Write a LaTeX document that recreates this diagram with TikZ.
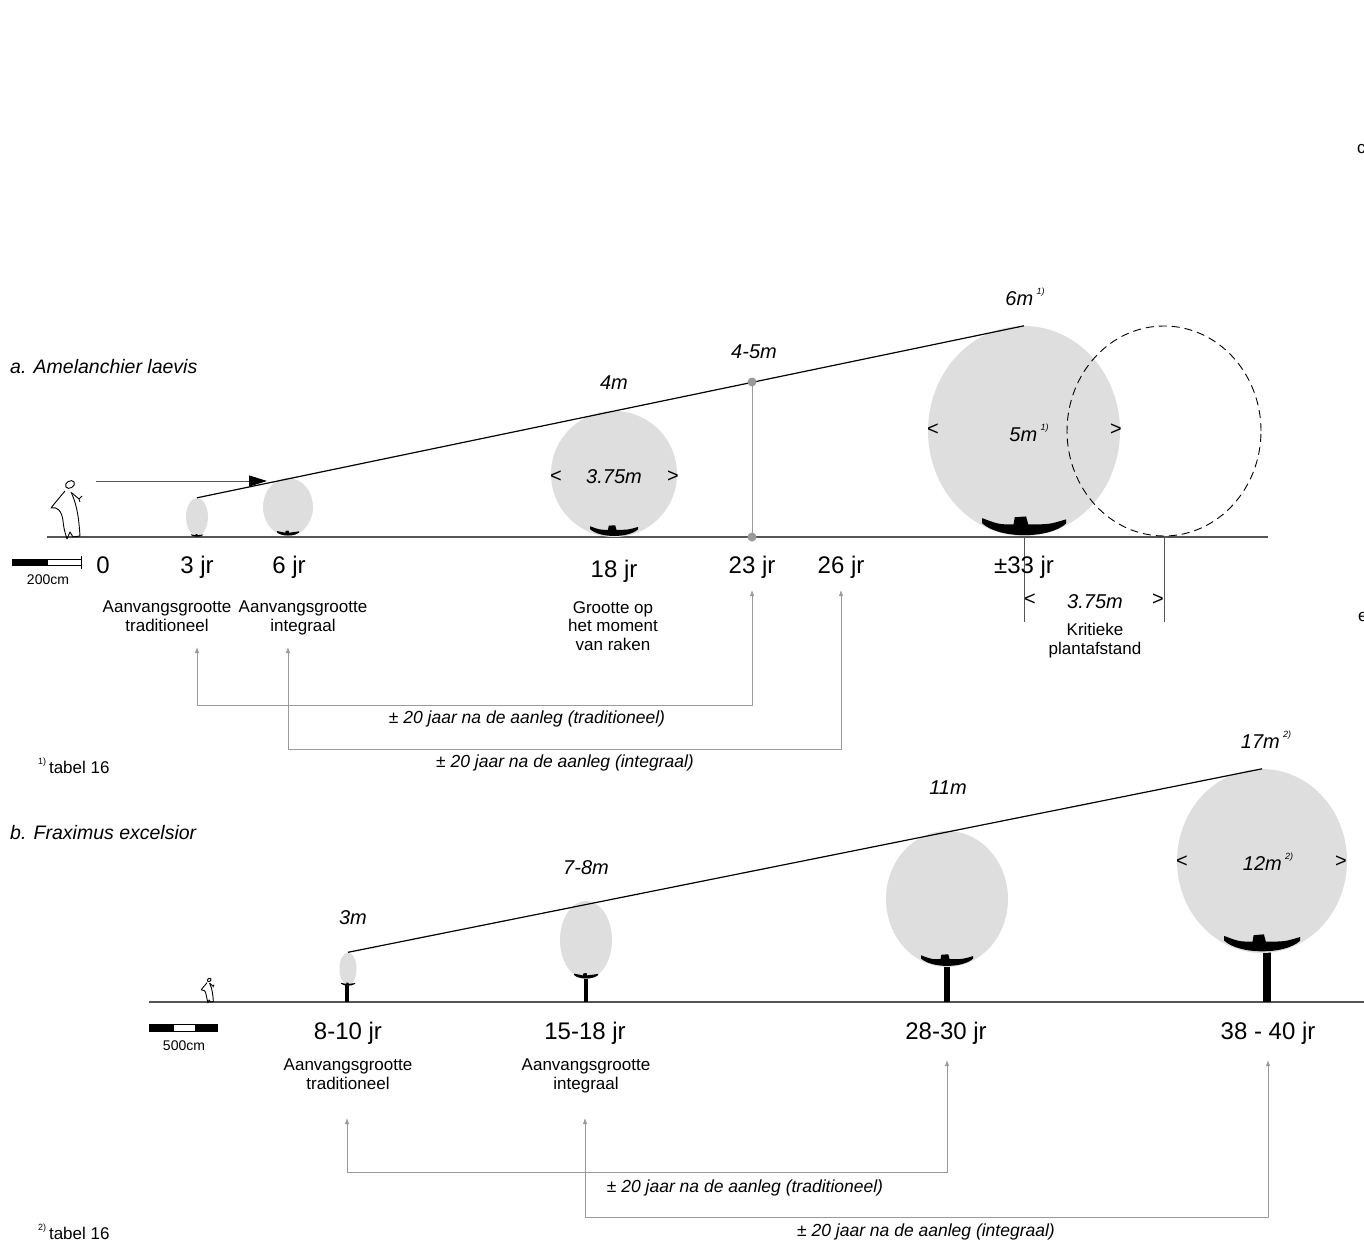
\documentclass[tikz,border=0pt]{standalone}
\usepackage{fontspec}
\setmainfont{Liberation Sans}
\usetikzlibrary{arrows.meta,shapes.geometric}

\definecolor{crowngray}{HTML}{DEDEDE}
\definecolor{linkgray}{HTML}{9A9A9A}
\definecolor{soilgray}{HTML}{555555}

% chỉ số chú thích nhỏ
\newcommand{\fnm}[1]{\raisebox{0.55em}{\fontsize{9}{9}\selectfont #1)}}

\tikzset{
  crown/.style={ellipse, fill=crowngray, inner sep=0pt},
  yearlbl/.style={font=\fontsize{24}{26}\selectfont, anchor=base, inner sep=0pt},
  captxt/.style={font=\fontsize{17}{18.5}\selectfont, align=center, anchor=north, inner sep=0pt},
  sizelbl/.style={font=\fontsize{20}{22}\selectfont\itshape, inner sep=0pt},
  marklbl/.style={font=\fontsize{20}{22}\selectfont, inner sep=0pt},
  spanlbl/.style={font=\fontsize{17.5}{19}\selectfont\itshape, inner sep=0pt},
  titletxt/.style={font=\fontsize{19.5}{21}\selectfont\itshape, anchor=west, inner sep=0pt},
  notetxt/.style={font=\fontsize{17}{18.5}\selectfont, anchor=west, inner sep=0pt},
  link/.style={draw=linkgray, line width=0.9pt,
    {Latex[length=6pt,width=4.5pt]}-{Latex[length=6pt,width=4.5pt]}},
  ground/.style={draw=soilgray, line width=1.3pt},
  % gốc cành màu đen dưới tán
  rootbase/.pic={
    \fill (-1,-0.45) .. controls (-0.6,-0.3) .. (-0.25,-0.3) -- (-0.22,-0.47)
      -- (0.05,-0.49) -- (0.1,-0.3) .. controls (0.6,-0.3) .. (1,-0.42)
      -- (1,-0.32) .. controls (0.6,0.05) and (-0.6,0.05) .. (-1,-0.33) -- cycle;
  },
  % người đi bộ
  walker/.pic={
    \draw[line width=0.9pt] (-2,-52.5) ellipse [x radius=4.8, y radius=3.5, rotate=30];
    \draw[line width=0.9pt, line join=round]
      (-7,-46) .. controls (-12,-40) and (-18,-33) .. (-21,-29)
      .. controls (-15,-31) and (-10,-26) .. (-9,-16)
      .. controls (-8,-8) .. (-5,2) -- (-2,-5) -- (1,0) -- (8,-1)
      .. controls (7,-15) and (6,-30) .. (-1,-45);
    \draw[line width=0.9pt] (0,-44) -- (7,-38) -- (10,-41) (7,-38) -- (8,-35);
  },
}

\begin{document}
\begin{tikzpicture}[x=1pt, y=-1pt]
  \useasboundingbox (0,0) rectangle (1364,1246);

  % ===== a. Amelanchier =====
  \node[titletxt] (titleA) at (10,367) {a. Amelanchier laevis};

  % Vẽ mặt đất, người và thước
  \draw[ground] (47,537) -- (1268,537);
  \pic at (72,537) {walker};
  \fill (12,559) rectangle (47,566);
  \draw[line width=0.8pt] (47,559.5) rectangle (81,565.5);
  \draw[line width=0.8pt] (81,556) -- (81,569);
  \node[font=\fontsize{14}{14}\selectfont] (scaleA) at (48,580) {200cm};

  % Tán cây
  \node[crown, minimum width=22pt, minimum height=38pt] (crA3) at (197,517) {};
  \node[crown, minimum width=50pt, minimum height=58pt] (crA6) at (288,507) {};
  \node[crown, minimum width=126pt, minimum height=126pt] (crA18) at (614,474) {};
  \node[crown, minimum width=192pt, minimum height=210pt] (crA33) at (1024,431) {};
  \node[ellipse, draw, dash pattern=on 8pt off 5pt, line width=0.9pt,
        minimum width=194pt, minimum height=210pt, inner sep=0pt] (crA33next) at (1164,431) {};
  \pic[scale=6] at (197,537) {rootbase};
  \pic[scale=11] at (288,536) {rootbase};
  \pic[scale=24] at (614,537) {rootbase};
  \pic[scale=42] at (1024,537) {rootbase};

  % Đường bao chiều cao
  \draw[line width=1.2pt] (crA3.north) -- (crA33.north);
  \coordinate (walkFrom) at (96,481);
  \coordinate (walkTo) at (267,481);
  \draw[soilgray, line width=1pt, -{Triangle[length=18pt,width=11pt,color=black]}] (walkFrom) -- (walkTo);

  % Thời điểm chạm nhau
  \coordinate (touchTop) at (752,382);
  \coordinate (touchFoot) at (752,537);
  \draw[linkgray, line width=1pt] (touchTop) -- (touchFoot);
  \fill[linkgray] (touchTop) circle[radius=4.5];
  \fill[linkgray] (touchFoot) circle[radius=4.5];

  % Nhãn kích thước
  \node[sizelbl] (hA33) at (1025,297) {6m\,\fnm{1}};
  \node[sizelbl] (hA23) at (754,352) {4-5m};
  \node[sizelbl] (hA18) at (614,383) {4m};
  \node[sizelbl] (wA18) at (614,477) {3.75m};
  \node[marklbl] (wA18l) at (556,477) {<};
  \node[marklbl] (wA18r) at (673,477) {>};
  \node[sizelbl] (wA33) at (1029,433) {5m\,\fnm{1}};
  \node[marklbl] (wA33l) at (933,430) {<};
  \node[marklbl] (wA33r) at (1116,430) {>};

  % Khoảng cách trồng tới hạn
  \coordinate (gapL) at (1024,622);
  \coordinate (gapR) at (1164,622);
  \draw[soilgray, line width=1pt] (crA33.south) -- (gapL);
  \draw[soilgray, line width=1pt] (crA33next.south) -- (gapR);
  \node[sizelbl] (gapW) at (1095,602) {3.75m};
  \node[marklbl] (gapWl) at (1030,600) {<};
  \node[marklbl] (gapWr) at (1158,600) {>};
  \node[captxt] (gapTxt) at (1095,623) {Kritieke\\plantafstand};

  % Năm
  \node[yearlbl] (yrA0) at (103,573) {0};
  \node[yearlbl] (yrA3) at (197,573) {3 jr};
  \node[yearlbl] (yrA6) at (289,573) {6 jr};
  \node[yearlbl] (yrA18) at (614,577) {18 jr};
  \node[yearlbl] (yrA23) at (752,573) {23 jr};
  \node[yearlbl] (yrA26) at (841,573) {26 jr};
  \node[yearlbl] (yrA33) at (1024,573) {±33 jr};

  \node[captxt] (capA3) at (167,601) {Aanvangsgrootte\\traditioneel};
  \node[captxt] (capA6) at (303,601) {Aanvangsgrootte\\integraal};
  \node[captxt] (capA18) at (613,601) {Grootte op\\het moment\\van raken};

  % Mũi tên 20 năm
  \coordinate (tipA3) at (197,647);
  \coordinate (tipA6) at (288,647);
  \coordinate (tipA23) at (752,590);
  \coordinate (tipA26) at (841,590);
  \coordinate (runA1) at (0,705);
  \coordinate (runA2) at (0,749);
  \draw[link] (tipA3) -- (tipA3 |- runA1) -- (tipA23 |- runA1) -- (tipA23);
  \draw[link] (tipA6) -- (tipA6 |- runA2) -- (tipA26 |- runA2) -- (tipA26);
  \node[spanlbl] (spanA1) at (527,719) {± 20 jaar na de aanleg (traditioneel)};
  \node[spanlbl] (spanA2) at (565,763) {± 20 jaar na de aanleg (integraal)};

  \node[notetxt] (noteA) at (38,766) {\fnm{1}\,tabel 16};
  \node[notetxt] (edgeC) at (1357,149) {c};
  \node[notetxt] (edgeE) at (1358,617) {e};

  % ===== b. Fraximus =====
  \node[titletxt] (titleB) at (10,833) {b. Fraximus excelsior};

  \draw[ground] (149,1002) -- (1364,1002);
  \pic[scale=0.42] at (210,1002) {walker};
  \fill (149,1024) rectangle (173,1032);
  \draw[line width=0.8pt] (173,1024.5) rectangle (195,1031.5);
  \fill (195,1024) rectangle (218,1032);
  \node[font=\fontsize{14}{14}\selectfont] (scaleB) at (184,1046) {500cm};

  % Thân và tán
  \draw[line width=4pt] (347,983) -- (347,1002);
  \draw[line width=4.5pt] (586,976) -- (586,1002);
  \draw[line width=6.5pt] (947,964) -- (947,1002);
  \draw[line width=7.5pt] (1267,950) -- (1267,1002);
  \node[crown, minimum width=17pt, minimum height=33pt] (crB8) at (348,969) {};
  \node[crown, minimum width=52pt, minimum height=78pt] (crB15) at (586,940) {};
  \node[crown, minimum width=122pt, minimum height=136pt] (crB28) at (947,899) {};
  \node[crown, minimum width=170pt, minimum height=184pt] (crB38) at (1262,861) {};
  \pic[scale=7] at (348,986) {rootbase};
  \pic[scale=12] at (586,979) {rootbase};
  \pic[scale=26] at (947,967) {rootbase};
  \pic[scale=38] at (1262,953) {rootbase};

  \draw[line width=1.2pt] (crB8.north) -- (crB38.north);

  \node[sizelbl] (hB8) at (353,918) {3m};
  \node[sizelbl] (hB15) at (586,868) {7-8m};
  \node[sizelbl] (hB28) at (948,788) {11m};
  \node[sizelbl] (hB38) at (1266,740) {17m\,\fnm{2}};
  \node[sizelbl] (wB38) at (1268,862) {12m\,\fnm{2}};
  \node[marklbl] (wB38l) at (1182,862) {<};
  \node[marklbl] (wB38r) at (1341,862) {>};

  \node[yearlbl] (yrB8) at (348,1039) {8-10 jr};
  \node[yearlbl] (yrB15) at (585,1039) {15-18 jr};
  \node[yearlbl] (yrB28) at (946,1039) {28-30 jr};
  \node[yearlbl] (yrB38) at (1268,1039) {38 - 40 jr};

  \node[captxt] (capB8) at (348,1059) {Aanvangsgrootte\\traditioneel};
  \node[captxt] (capB15) at (586,1059) {Aanvangsgrootte\\integraal};

  \coordinate (tipB8) at (347,1118);
  \coordinate (tipB15) at (585,1118);
  \coordinate (tipB28) at (947,1060);
  \coordinate (tipB38) at (1268,1060);
  \coordinate (runB1) at (0,1172);
  \coordinate (runB2) at (0,1217);
  \draw[link] (tipB8) -- (tipB8 |- runB1) -- (tipB28 |- runB1) -- (tipB28);
  \draw[link] (tipB15) -- (tipB15 |- runB2) -- (tipB38 |- runB2) -- (tipB38);
  \node[spanlbl] (spanB1) at (745,1188) {± 20 jaar na de aanleg (traditioneel)};
  \node[spanlbl] (spanB2) at (926,1232) {± 20 jaar na de aanleg (integraal)};

  \node[notetxt] (noteB) at (38,1232) {\fnm{2}\,tabel 16};

\end{tikzpicture}
\end{document}
